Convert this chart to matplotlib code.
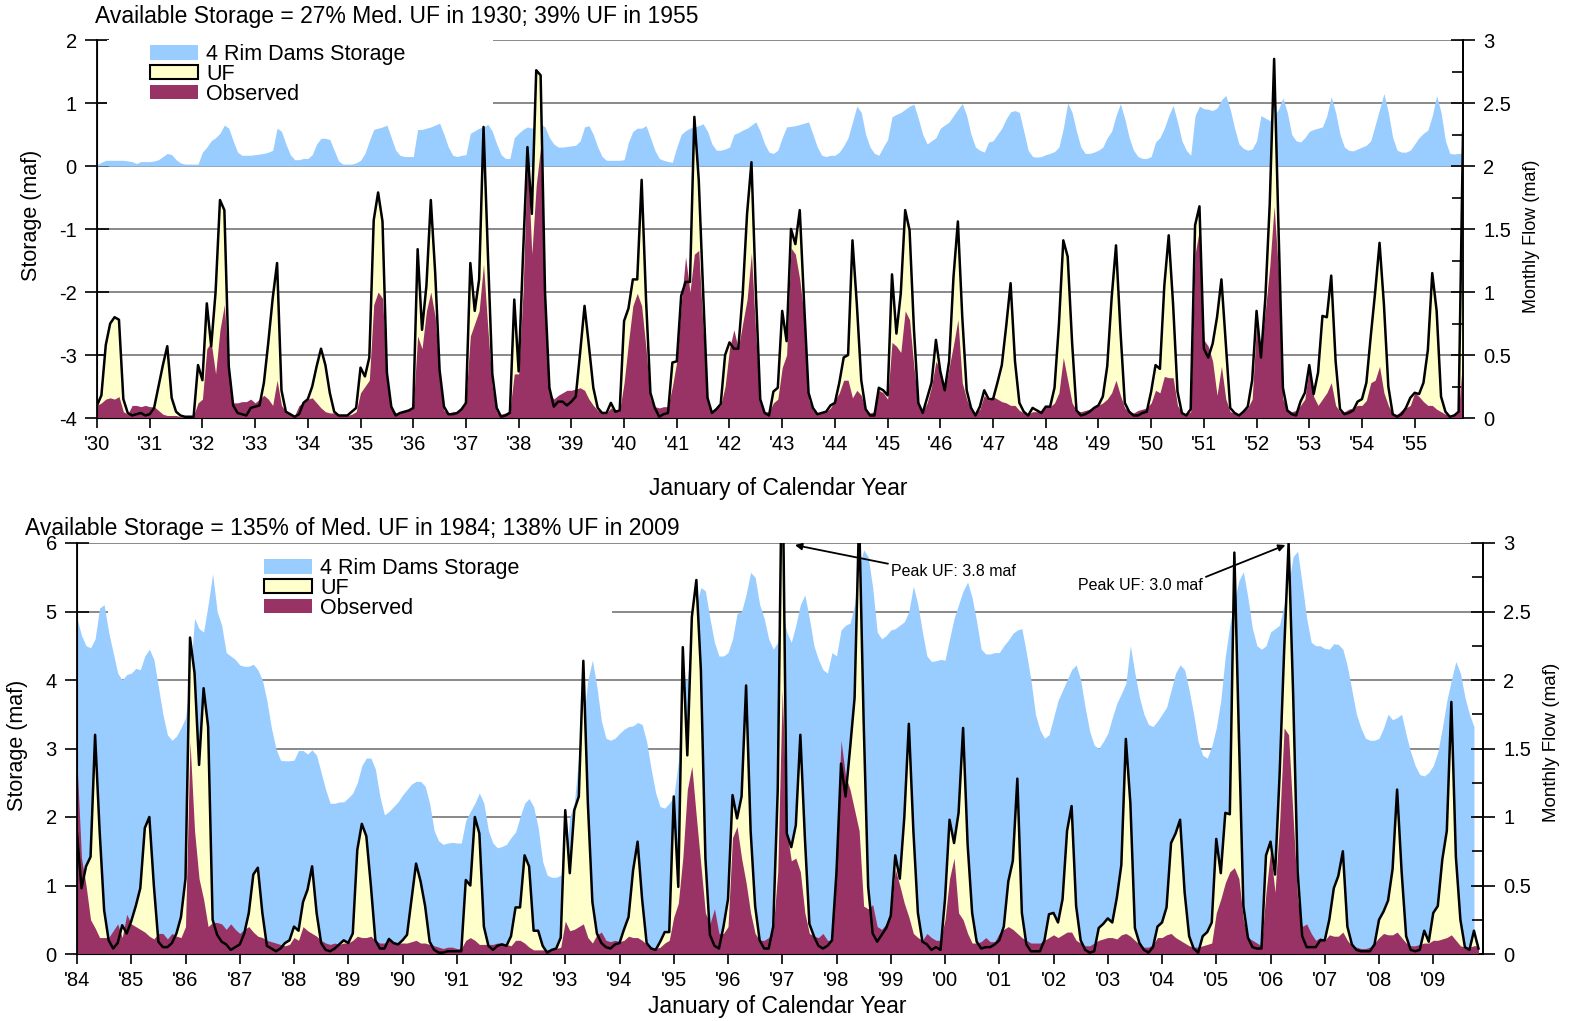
import numpy as np
import matplotlib
matplotlib.use('Agg')
import matplotlib.pyplot as plt
from matplotlib.patches import Patch, Rectangle
from matplotlib.ticker import MultipleLocator, FormatStrFormatter

plt.rcParams['font.family'] = ['Liberation Sans', 'DejaVu Sans']
plt.rcParams['axes.unicode_minus'] = False

# ---------------- data: 1930-1955 (monthly, Jan..Dec) ----------------
uf_top = [
    0.10, 0.18, 0.58, 0.75, 0.80, 0.78, 0.15, 0.04, 0.02, 0.03, 0.04, 0.02,  # 1930
    0.03, 0.08, 0.25, 0.42, 0.57, 0.16, 0.05, 0.02, 0.01, 0.01, 0.01, 0.42,  # 1931
    0.30, 0.91, 0.57, 1.00, 1.73, 1.65, 0.41, 0.10, 0.04, 0.03, 0.02, 0.08,  # 1932
    0.09, 0.10, 0.28, 0.60, 0.95, 1.23, 0.22, 0.05, 0.03, 0.01, 0.03, 0.12,  # 1933
    0.15, 0.25, 0.41, 0.55, 0.42, 0.20, 0.05, 0.02, 0.02, 0.02, 0.05, 0.08,  # 1934
    0.40, 0.33, 0.48, 1.57, 1.79, 1.56, 0.36, 0.09, 0.02, 0.04, 0.05, 0.06,  # 1935
    0.08, 1.34, 0.70, 1.05, 1.73, 1.15, 0.38, 0.09, 0.03, 0.03, 0.04, 0.07,  # 1936
    0.12, 1.23, 0.85, 1.10, 2.31, 1.30, 0.35, 0.08, 0.01, 0.02, 0.04, 0.94,  # 1937
    0.37, 1.30, 2.15, 1.62, 2.76, 2.72, 1.00, 0.24, 0.09, 0.13, 0.13, 0.10,  # 1938
    0.13, 0.17, 0.52, 0.89, 0.57, 0.24, 0.08, 0.04, 0.04, 0.12, 0.05, 0.06,  # 1939
    0.77, 0.87, 1.10, 1.10, 1.89, 0.94, 0.20, 0.08, 0.01, 0.03, 0.04, 0.44,  # 1940
    0.45, 0.97, 1.08, 1.08, 2.39, 1.89, 1.00, 0.16, 0.04, 0.07, 0.11, 0.50,  # 1941
    0.60, 0.55, 0.55, 0.98, 1.62, 2.03, 1.00, 0.15, 0.04, 0.02, 0.21, 0.24,  # 1942
    0.85, 0.61, 1.50, 1.38, 1.65, 0.90, 0.20, 0.08, 0.03, 0.04, 0.05, 0.10,  # 1943
    0.12, 0.28, 0.48, 0.50, 1.41, 0.90, 0.30, 0.07, 0.02, 0.02, 0.24, 0.22,  # 1944
    0.18, 1.14, 0.67, 0.99, 1.65, 1.49, 0.70, 0.12, 0.04, 0.16, 0.28, 0.62,  # 1945
    0.37, 0.22, 0.45, 1.12, 1.56, 0.80, 0.22, 0.08, 0.02, 0.09, 0.22, 0.15,  # 1946
    0.15, 0.28, 0.42, 0.73, 1.07, 0.45, 0.12, 0.05, 0.02, 0.08, 0.06, 0.04,  # 1947
    0.09, 0.09, 0.24, 0.74, 1.41, 1.28, 0.60, 0.06, 0.02, 0.03, 0.05, 0.08,  # 1948
    0.10, 0.17, 0.41, 0.95, 1.37, 0.70, 0.12, 0.05, 0.02, 0.02, 0.04, 0.05,  # 1949
    0.21, 0.42, 0.39, 1.05, 1.45, 0.90, 0.21, 0.04, 0.02, 0.07, 1.53, 1.68,  # 1950
    0.55, 0.48, 0.59, 0.80, 1.10, 0.59, 0.08, 0.04, 0.02, 0.05, 0.09, 0.30,  # 1951
    0.85, 0.48, 0.95, 1.70, 2.85, 1.50, 0.24, 0.06, 0.03, 0.02, 0.13, 0.20,  # 1952
    0.42, 0.19, 0.36, 0.81, 0.80, 1.13, 0.45, 0.07, 0.03, 0.04, 0.06, 0.13,  # 1953
    0.15, 0.28, 0.65, 1.00, 1.39, 0.90, 0.25, 0.03, 0.01, 0.03, 0.08, 0.16,  # 1954
    0.20, 0.19, 0.28, 0.54, 1.15, 0.85, 0.17, 0.05, 0.01, 0.02, 0.05, 2.26,  # 1955
]
obs_top = [
    0.10, 0.12, 0.15, 0.16, 0.15, 0.17, 0.05, 0.03, 0.10, 0.10, 0.09, 0.10,  # 1930
    0.09, 0.09, 0.06, 0.03, 0.02, 0.02, 0.02, 0.01, 0.01, 0.01, 0.02, 0.12,  # 1931
    0.15, 0.55, 0.60, 0.35, 0.70, 0.90, 0.35, 0.12, 0.12, 0.13, 0.13, 0.15,  # 1932
    0.12, 0.15, 0.18, 0.15, 0.10, 0.30, 0.10, 0.05, 0.04, 0.02, 0.10, 0.12,  # 1933
    0.15, 0.16, 0.12, 0.08, 0.05, 0.04, 0.04, 0.03, 0.02, 0.02, 0.03, 0.05,  # 1934
    0.20, 0.25, 0.30, 0.90, 1.00, 0.95, 0.35, 0.08, 0.04, 0.05, 0.06, 0.07,  # 1935
    0.08, 0.65, 0.55, 0.85, 1.00, 0.80, 0.30, 0.06, 0.04, 0.05, 0.05, 0.08,  # 1936
    0.15, 0.65, 0.75, 0.85, 1.22, 0.70, 0.25, 0.05, 0.03, 0.04, 0.06, 0.35,  # 1937
    0.35, 1.00, 2.10, 1.30, 1.85, 2.15, 0.90, 0.20, 0.15, 0.18, 0.20, 0.22,  # 1938
    0.22, 0.23, 0.24, 0.22, 0.15, 0.10, 0.06, 0.05, 0.04, 0.08, 0.06, 0.06,  # 1939
    0.28, 0.60, 0.89, 0.99, 0.89, 0.55, 0.15, 0.09, 0.08, 0.09, 0.09, 0.25,  # 1940
    0.45, 0.90, 1.28, 1.00, 1.30, 1.33, 0.70, 0.12, 0.05, 0.08, 0.10, 0.25,  # 1941
    0.55, 0.70, 0.55, 0.75, 0.94, 1.31, 0.65, 0.12, 0.05, 0.05, 0.12, 0.15,  # 1942
    0.40, 0.50, 1.35, 1.30, 1.10, 0.80, 0.15, 0.06, 0.04, 0.04, 0.05, 0.08,  # 1943
    0.14, 0.20, 0.30, 0.30, 0.16, 0.22, 0.18, 0.06, 0.04, 0.05, 0.22, 0.20,  # 1944
    0.15, 0.60, 0.57, 0.52, 0.85, 0.78, 0.40, 0.10, 0.05, 0.12, 0.25, 0.45,  # 1945
    0.38, 0.22, 0.40, 0.58, 0.78, 0.28, 0.15, 0.06, 0.04, 0.07, 0.18, 0.14,  # 1946
    0.17, 0.15, 0.13, 0.12, 0.10, 0.10, 0.06, 0.04, 0.03, 0.05, 0.05, 0.05,  # 1947
    0.10, 0.09, 0.12, 0.20, 0.48, 0.30, 0.12, 0.06, 0.05, 0.06, 0.07, 0.08,  # 1948
    0.10, 0.12, 0.15, 0.20, 0.30, 0.18, 0.08, 0.05, 0.04, 0.06, 0.07, 0.08,  # 1949
    0.12, 0.22, 0.20, 0.33, 0.32, 0.32, 0.10, 0.04, 0.03, 0.05, 1.30, 1.50,  # 1950
    0.62, 0.57, 0.45, 0.18, 0.41, 0.15, 0.05, 0.04, 0.03, 0.06, 0.08, 0.15,  # 1951
    0.75, 0.55, 0.85, 1.20, 1.68, 1.15, 0.15, 0.07, 0.05, 0.06, 0.10, 0.15,  # 1952
    0.40, 0.17, 0.10, 0.15, 0.20, 0.28, 0.10, 0.05, 0.05, 0.07, 0.08, 0.10,  # 1953
    0.10, 0.14, 0.28, 0.30, 0.41, 0.20, 0.10, 0.03, 0.03, 0.06, 0.08, 0.10,  # 1954
    0.20, 0.17, 0.13, 0.10, 0.10, 0.07, 0.05, 0.03, 0.02, 0.03, 0.06, 0.50,  # 1955
]
storage_top = [
    0.02, 0.06, 0.09, 0.09, 0.09, 0.09, 0.09, 0.08, 0.07, 0.04, 0.07, 0.07,  # 1930
    0.07, 0.08, 0.10, 0.15, 0.20, 0.18, 0.10, 0.05, 0.03, 0.03, 0.03, 0.03,  # 1931
    0.22, 0.30, 0.40, 0.45, 0.52, 0.65, 0.60, 0.40, 0.22, 0.17, 0.17, 0.17,  # 1932
    0.18, 0.19, 0.20, 0.22, 0.25, 0.60, 0.55, 0.35, 0.18, 0.10, 0.10, 0.12,  # 1933
    0.12, 0.18, 0.35, 0.44, 0.44, 0.42, 0.25, 0.08, 0.03, 0.03, 0.03, 0.05,  # 1934
    0.09, 0.20, 0.40, 0.58, 0.60, 0.62, 0.65, 0.45, 0.25, 0.17, 0.15, 0.15,  # 1935
    0.15, 0.58, 0.58, 0.60, 0.62, 0.65, 0.68, 0.50, 0.30, 0.17, 0.15, 0.17,  # 1936
    0.18, 0.52, 0.56, 0.60, 0.62, 0.66, 0.55, 0.35, 0.18, 0.12, 0.12, 0.45,  # 1937
    0.52, 0.58, 0.62, 0.60, 0.64, 0.67, 0.62, 0.45, 0.35, 0.30, 0.30, 0.31,  # 1938
    0.32, 0.33, 0.40, 0.62, 0.64, 0.50, 0.30, 0.15, 0.09, 0.09, 0.09, 0.09,  # 1939
    0.10, 0.38, 0.55, 0.60, 0.60, 0.64, 0.45, 0.25, 0.12, 0.09, 0.07, 0.06,  # 1940
    0.30, 0.50, 0.56, 0.60, 0.62, 0.64, 0.67, 0.55, 0.35, 0.25, 0.25, 0.27,  # 1941
    0.30, 0.50, 0.53, 0.57, 0.60, 0.65, 0.70, 0.55, 0.35, 0.22, 0.20, 0.25,  # 1942
    0.45, 0.62, 0.63, 0.64, 0.66, 0.68, 0.70, 0.50, 0.30, 0.17, 0.15, 0.17,  # 1943
    0.17, 0.22, 0.32, 0.45, 0.70, 0.95, 0.85, 0.50, 0.30, 0.20, 0.17, 0.30,  # 1944
    0.42, 0.78, 0.82, 0.85, 0.90, 0.95, 0.98, 0.75, 0.50, 0.35, 0.40, 0.45,  # 1945
    0.60, 0.65, 0.70, 0.80, 0.90, 0.99, 0.80, 0.50, 0.30, 0.25, 0.22, 0.38,  # 1946
    0.40, 0.50, 0.60, 0.75, 0.86, 0.88, 0.85, 0.55, 0.25, 0.15, 0.14, 0.15,  # 1947
    0.18, 0.20, 0.23, 0.30, 0.60, 1.00, 0.85, 0.55, 0.30, 0.20, 0.20, 0.22,  # 1948
    0.25, 0.30, 0.45, 0.55, 0.80, 0.99, 0.75, 0.45, 0.25, 0.15, 0.12, 0.12,  # 1949
    0.15, 0.38, 0.45, 0.60, 0.80, 0.96, 0.70, 0.40, 0.25, 0.17, 0.80, 0.95,  # 1950
    0.91, 0.90, 0.88, 0.92, 1.05, 1.12, 0.90, 0.60, 0.35, 0.28, 0.25, 0.27,  # 1951
    0.40, 0.80, 0.76, 0.72, 0.80, 0.90, 1.08, 0.85, 0.50, 0.40, 0.38, 0.45,  # 1952
    0.55, 0.58, 0.60, 0.62, 0.80, 1.10, 0.85, 0.50, 0.30, 0.25, 0.24, 0.27,  # 1953
    0.30, 0.33, 0.40, 0.65, 0.90, 1.15, 0.85, 0.45, 0.25, 0.22, 0.22, 0.25,  # 1954
    0.35, 0.45, 0.52, 0.57, 0.80, 1.12, 0.85, 0.40, 0.20, 0.19, 0.20, 0.20,  # 1955
]

# ---------------- data: 1984-2009 (monthly, Jan..Dec) ----------------
uf_bot = [
    0.88, 0.48, 0.64, 0.71, 1.60, 0.90, 0.32, 0.10, 0.04, 0.08, 0.21, 0.15,  # 1984
    0.24, 0.35, 0.48, 0.92, 1.00, 0.50, 0.09, 0.05, 0.05, 0.08, 0.15, 0.27,  # 1985
    0.55, 2.31, 2.05, 1.38, 1.94, 1.66, 0.25, 0.14, 0.09, 0.07, 0.03, 0.05,  # 1986
    0.07, 0.15, 0.30, 0.58, 0.63, 0.30, 0.06, 0.04, 0.02, 0.04, 0.08, 0.10,  # 1987
    0.20, 0.17, 0.38, 0.47, 0.64, 0.30, 0.08, 0.03, 0.02, 0.04, 0.07, 0.10,  # 1988
    0.08, 0.15, 0.76, 0.95, 0.86, 0.50, 0.10, 0.04, 0.04, 0.11, 0.08, 0.07,  # 1989
    0.10, 0.14, 0.40, 0.66, 0.53, 0.35, 0.09, 0.03, 0.01, 0.01, 0.02, 0.02,  # 1990
    0.02, 0.02, 0.54, 0.50, 1.00, 0.88, 0.20, 0.06, 0.03, 0.06, 0.07, 0.06,  # 1991
    0.13, 0.34, 0.34, 0.72, 0.64, 0.17, 0.17, 0.06, 0.01, 0.03, 0.04, 0.12,  # 1992
    1.05, 0.59, 1.05, 1.15, 2.14, 1.10, 0.38, 0.15, 0.08, 0.05, 0.04, 0.07,  # 1993
    0.08, 0.18, 0.27, 0.61, 0.82, 0.40, 0.08, 0.04, 0.03, 0.09, 0.16, 0.16,  # 1994
    1.15, 0.49, 2.24, 1.45, 2.46, 2.73, 2.07, 0.70, 0.14, 0.06, 0.04, 0.20,  # 1995
    0.40, 1.16, 0.99, 1.15, 1.96, 0.90, 0.35, 0.10, 0.04, 0.04, 0.20, 1.20,  # 1996
    3.80, 0.88, 0.78, 0.94, 1.60, 0.85, 0.22, 0.13, 0.06, 0.04, 0.06, 0.10,  # 1997
    0.60, 1.39, 1.15, 1.50, 1.87, 3.20, 1.70, 0.49, 0.15, 0.09, 0.14, 0.19,  # 1998
    0.28, 0.72, 0.55, 1.00, 1.68, 0.90, 0.30, 0.09, 0.07, 0.03, 0.05, 0.03,  # 1999
    0.40, 0.98, 0.81, 1.03, 1.65, 0.80, 0.30, 0.09, 0.04, 0.05, 0.05, 0.07,  # 2000
    0.10, 0.20, 0.53, 0.68, 1.28, 0.30, 0.07, 0.02, 0.02, 0.02, 0.10, 0.29,  # 2001
    0.30, 0.23, 0.40, 0.90, 1.08, 0.35, 0.10, 0.03, 0.01, 0.02, 0.19, 0.22,  # 2002
    0.26, 0.23, 0.41, 0.65, 1.57, 1.10, 0.19, 0.08, 0.03, 0.01, 0.05, 0.20,  # 2003
    0.23, 0.34, 0.81, 0.88, 0.98, 0.45, 0.13, 0.04, 0.01, 0.13, 0.16, 0.23,  # 2004
    0.84, 0.59, 1.03, 1.02, 2.93, 1.60, 0.35, 0.12, 0.05, 0.04, 0.04, 0.72,  # 2005
    0.82, 0.58, 1.30, 2.20, 3.00, 1.90, 0.60, 0.13, 0.05, 0.05, 0.05, 0.10,  # 2006
    0.10, 0.25, 0.48, 0.57, 0.75, 0.20, 0.07, 0.03, 0.02, 0.02, 0.02, 0.07,  # 2007
    0.25, 0.31, 0.39, 0.62, 1.20, 0.60, 0.13, 0.03, 0.02, 0.03, 0.17, 0.09,  # 2008
    0.30, 0.35, 0.69, 0.90, 1.84, 0.71, 0.25, 0.05, 0.03, 0.17, 0.04,        # 2009
]
obs_bot = [
    1.40, 0.70, 0.50, 0.25, 0.19, 0.12, 0.12, 0.12, 0.17, 0.22, 0.12, 0.29,  # 1984
    0.22, 0.20, 0.18, 0.16, 0.13, 0.11, 0.15, 0.15, 0.11, 0.15, 0.13, 0.12,  # 1985
    0.20, 1.55, 0.90, 0.55, 0.40, 0.20, 0.23, 0.23, 0.22, 0.18, 0.22, 0.18,  # 1986
    0.15, 0.18, 0.20, 0.16, 0.13, 0.12, 0.10, 0.09, 0.08, 0.07, 0.06, 0.07,  # 1987
    0.12, 0.10, 0.20, 0.17, 0.15, 0.13, 0.10, 0.08, 0.07, 0.08, 0.07, 0.08,  # 1988
    0.08, 0.10, 0.13, 0.12, 0.12, 0.13, 0.10, 0.08, 0.08, 0.10, 0.08, 0.08,  # 1989
    0.08, 0.08, 0.09, 0.10, 0.08, 0.08, 0.07, 0.06, 0.05, 0.04, 0.05, 0.05,  # 1990
    0.04, 0.04, 0.10, 0.12, 0.10, 0.07, 0.07, 0.07, 0.07, 0.08, 0.08, 0.07,  # 1991
    0.06, 0.10, 0.10, 0.08, 0.05, 0.03, 0.03, 0.03, 0.03, 0.03, 0.04, 0.05,  # 1992
    0.24, 0.17, 0.18, 0.20, 0.22, 0.12, 0.08, 0.14, 0.16, 0.10, 0.09, 0.10,  # 1993
    0.09, 0.10, 0.13, 0.12, 0.12, 0.10, 0.07, 0.05, 0.04, 0.05, 0.08, 0.10,  # 1994
    0.27, 0.37, 0.70, 1.20, 1.37, 1.00, 0.65, 0.30, 0.22, 0.33, 0.15, 0.15,  # 1995
    0.20, 0.85, 0.93, 0.70, 0.52, 0.30, 0.15, 0.10, 0.10, 0.12, 0.18, 0.60,  # 1996
    1.93, 0.90, 0.68, 0.70, 0.60, 0.30, 0.15, 0.13, 0.12, 0.15, 0.10, 0.10,  # 1997
    0.80, 1.56, 1.30, 1.20, 1.05, 0.90, 0.35, 0.33, 0.36, 0.20, 0.18, 0.22,  # 1998
    0.30, 0.62, 0.50, 0.37, 0.27, 0.15, 0.12, 0.10, 0.15, 0.12, 0.10, 0.10,  # 1999
    0.25, 0.55, 0.70, 0.30, 0.25, 0.15, 0.08, 0.08, 0.09, 0.12, 0.09, 0.09,  # 2000
    0.15, 0.18, 0.20, 0.18, 0.15, 0.12, 0.10, 0.08, 0.08, 0.08, 0.10, 0.12,  # 2001
    0.14, 0.12, 0.14, 0.16, 0.16, 0.10, 0.08, 0.06, 0.06, 0.08, 0.10, 0.11,  # 2002
    0.12, 0.12, 0.11, 0.14, 0.15, 0.13, 0.10, 0.07, 0.05, 0.05, 0.07, 0.12,  # 2003
    0.12, 0.14, 0.15, 0.12, 0.10, 0.08, 0.06, 0.05, 0.05, 0.06, 0.07, 0.08,  # 2004
    0.30, 0.40, 0.52, 0.60, 0.63, 0.55, 0.25, 0.12, 0.10, 0.08, 0.06, 0.45,  # 2005
    0.75, 0.45, 0.95, 1.65, 1.60, 1.00, 0.40, 0.20, 0.22, 0.15, 0.10, 0.12,  # 2006
    0.10, 0.14, 0.13, 0.13, 0.16, 0.10, 0.06, 0.05, 0.04, 0.04, 0.05, 0.08,  # 2007
    0.12, 0.15, 0.14, 0.14, 0.16, 0.12, 0.08, 0.06, 0.06, 0.07, 0.08, 0.08,  # 2008
    0.10, 0.10, 0.11, 0.12, 0.14, 0.10, 0.06, 0.05, 0.05, 0.06, 0.06,        # 2009
]
storage_bot = [
    4.90, 4.65, 4.50, 4.47, 4.60, 5.05, 5.10, 4.70, 4.40, 4.10, 4.00, 4.08,  # 1984
    4.10, 4.17, 4.15, 4.35, 4.45, 4.30, 3.90, 3.50, 3.20, 3.12, 3.18, 3.30,  # 1985
    3.45, 4.00, 4.90, 4.75, 4.70, 5.10, 5.55, 5.00, 4.80, 4.40, 4.35, 4.30,  # 1986
    4.22, 4.20, 4.20, 4.23, 4.15, 4.00, 3.70, 3.30, 3.00, 2.83, 2.82, 2.82,  # 1987
    2.83, 2.97, 2.97, 2.92, 2.98, 2.90, 2.65, 2.40, 2.20, 2.20, 2.22, 2.22,  # 1988
    2.28, 2.35, 2.50, 2.75, 2.86, 2.86, 2.70, 2.30, 2.03, 2.08, 2.15, 2.22,  # 1989
    2.32, 2.40, 2.48, 2.52, 2.52, 2.45, 2.20, 1.80, 1.65, 1.60, 1.62, 1.63,  # 1990
    1.62, 1.62, 1.95, 2.08, 2.20, 2.35, 2.20, 1.80, 1.62, 1.55, 1.57, 1.60,  # 1991
    1.70, 1.78, 2.00, 2.20, 2.27, 2.15, 1.85, 1.35, 1.15, 1.12, 1.12, 1.15,  # 1992
    1.30, 2.00, 2.20, 2.90, 3.40, 4.00, 4.29, 3.90, 3.40, 3.15, 3.12, 3.15,  # 1993
    3.22, 3.28, 3.32, 3.33, 3.38, 3.35, 3.10, 2.70, 2.35, 2.15, 2.13, 2.20,  # 1994
    2.30, 2.80, 4.00, 4.00, 4.60, 5.10, 5.35, 5.30, 4.90, 4.55, 4.35, 4.35,  # 1995
    4.40, 4.60, 4.97, 5.00, 5.25, 5.57, 5.50, 5.10, 4.90, 4.60, 4.45, 4.55,  # 1996
    5.00, 4.70, 4.55, 4.80, 5.10, 5.24, 4.90, 4.50, 4.30, 4.15, 4.10, 4.40,  # 1997
    4.35, 4.73, 4.80, 4.83, 5.10, 5.65, 5.90, 5.80, 5.35, 4.70, 4.60, 4.65,  # 1998
    4.73, 4.75, 4.80, 4.85, 5.00, 5.37, 5.10, 4.70, 4.35, 4.27, 4.28, 4.30,  # 1999
    4.29, 4.60, 4.90, 5.10, 5.30, 5.43, 5.20, 4.85, 4.45, 4.38, 4.38, 4.40,  # 2000
    4.40, 4.50, 4.58, 4.68, 4.73, 4.75, 4.40, 4.00, 3.50, 3.27, 3.15, 3.20,  # 2001
    3.45, 3.70, 3.85, 4.00, 4.15, 4.22, 4.00, 3.60, 3.25, 3.05, 3.00, 3.10,  # 2002
    3.22, 3.45, 3.66, 3.80, 3.95, 4.50, 4.10, 3.75, 3.50, 3.35, 3.32, 3.40,  # 2003
    3.50, 3.60, 3.85, 4.10, 4.22, 4.15, 3.85, 3.50, 3.10, 2.90, 2.86, 3.03,  # 2004
    3.30, 3.70, 4.35, 4.80, 5.15, 5.45, 5.58, 5.20, 4.75, 4.50, 4.45, 4.50,  # 2005
    4.70, 4.75, 4.80, 5.10, 5.40, 5.80, 5.88, 5.40, 4.90, 4.55, 4.50, 4.50,  # 2006
    4.46, 4.45, 4.53, 4.52, 4.45, 4.20, 3.85, 3.50, 3.30, 3.15, 3.12, 3.12,  # 2007
    3.15, 3.30, 3.50, 3.42, 3.45, 3.50, 3.20, 2.95, 2.75, 2.62, 2.60, 2.65,  # 2008
    2.75, 2.95, 3.30, 3.70, 4.00, 4.27, 4.10, 3.75, 3.50, 3.32,              # 2009
]

STORAGE_C = '#99CCFF'
UF_C = '#FFFFCC'
OBS_C = '#993366'
GRID_C = '#808080'

fig = plt.figure(figsize=(15.69, 10.21), dpi=100)
W, H = 1569.0, 1021.0


def panel(box, first_year, storage, uf, obs, s_lim, legend_xy, legend_bg):
    # box in pixels: left, top, right, bottom
    l, t, r, b = box
    ax = fig.add_axes([l / W, 1 - b / H, (r - l) / W, (b - t) / H])
    ax.set_axisbelow(True)
    xs = np.arange(len(storage))
    ax.fill_between(xs, 0, storage, color=STORAGE_C, lw=0, zorder=6)
    ax.set_xlim(0, 311)
    ax.set_ylim(*s_lim)
    ax.yaxis.set_major_locator(MultipleLocator(1))
    ax.yaxis.grid(True, color=GRID_C, lw=1.3, zorder=0)
    ax.set_xticks(np.arange(0, 312, 12))
    ax.set_xticklabels(["'%02d" % (y % 100) for y in range(first_year, first_year + 26)])
    ax.tick_params(axis='x', direction='out', length=7, width=1.2, labelsize=14.5, pad=5)
    ax.tick_params(axis='y', direction='inout', length=17, width=1.2, labelsize=14.5, pad=6)
    for s in ['left', 'bottom', 'right']:
        ax.spines[s].set_linewidth(1.3)
    ax.spines['top'].set_visible(False)

    # white legend background (hides the gridlines like the original legend box)
    bx0, by0, bx1, by1 = legend_bg
    ax.add_patch(Rectangle((bx0 / W, 1 - by1 / H), (bx1 - bx0) / W, (by1 - by0) / H,
                           transform=fig.transFigure, facecolor='white',
                           edgecolor='none', zorder=3))

    handles = [Patch(facecolor=STORAGE_C, edgecolor='none', label='4 Rim Dams Storage'),
               Patch(facecolor=UF_C, edgecolor='black', lw=1.5, label='UF'),
               Patch(facecolor=OBS_C, edgecolor='none', label='Observed')]
    leg = ax.legend(handles=handles, loc='upper left',
                    bbox_to_anchor=(legend_xy[0] / W, 1 - legend_xy[1] / H),
                    bbox_transform=fig.transFigure, fontsize=15.5, frameon=False,
                    labelspacing=-0.06, handlelength=2.2, handleheight=0.65,
                    handletextpad=0.4, borderpad=0.1, borderaxespad=0)
    leg.set_zorder(4)

    ax2 = ax.twinx()
    xf = np.arange(len(uf))
    ax2.fill_between(xf, 0, uf, color=UF_C, lw=0, zorder=1)
    ax2.fill_between(xf, 0, obs, color=OBS_C, lw=0, zorder=2)
    ax2.plot(xf, uf, color='black', lw=1.8, zorder=3)
    ax2.set_ylim(0, 3)
    ax2.set_xlim(0, 311)
    ax2.yaxis.set_major_locator(MultipleLocator(0.5))
    ax2.yaxis.set_minor_locator(MultipleLocator(0.25))
    ax2.yaxis.set_major_formatter(FormatStrFormatter('%g'))
    ax2.tick_params(axis='y', which='major', direction='inout', length=17, width=1.2,
                    labelsize=14.5, pad=6)
    ax2.tick_params(axis='y', which='minor', direction='in', length=8, width=1.2)
    ax2.spines['top'].set_visible(False)
    ax2.spines['right'].set_linewidth(1.3)
    return ax, ax2


# top panel
ax_t, ax2_t = panel((97, 40, 1463, 418), 1930, storage_top, uf_top, obs_top, (-4, 2),
                    (148, 42), (107, 39, 493, 104))
# bottom panel
ax_b, ax2_b = panel((77, 543, 1483, 954), 1984, storage_bot, uf_bot, obs_bot, (0, 6),
                    (262, 556), (108, 546, 612, 614))

# peak annotations in the lower panel
ax2_b.annotate('Peak UF: 3.8 maf', xy=(158.8, 2.985), xytext=(180, 2.79),
               ha='left', va='center', fontsize=11.5, annotation_clip=False,
               arrowprops=dict(arrowstyle='-|>', color='black', lw=1.3, mutation_scale=10,
                               relpos=(0, 1), shrinkA=0, shrinkB=0))
ax2_b.annotate('Peak UF: 3.0 maf', xy=(267.3, 2.985), xytext=(221.5, 2.69),
               ha='left', va='center', fontsize=11.5, annotation_clip=False,
               arrowprops=dict(arrowstyle='-|>', color='black', lw=1.3, mutation_scale=10,
                               relpos=(1, 1), shrinkA=0, shrinkB=0))

# titles and axis labels
fig.text(95 / W, 1 - 17 / H, 'Available Storage = 27% Med. UF in 1930; 39% UF in 1955',
         ha='left', va='center', fontsize=16.5)
fig.text(25 / W, 1 - 529 / H, 'Available Storage = 135% of Med. UF in 1984; 138% UF in 2009',
         ha='left', va='center', fontsize=16.5)
fig.text(778 / W, 1 - 488 / H, 'January of Calendar Year', ha='center', va='center', fontsize=16.5)
fig.text(777 / W, 1 - 1006 / H, 'January of Calendar Year', ha='center', va='center', fontsize=16.5)
fig.text(31 / W, 1 - 215 / H, 'Storage (maf)', rotation=90, ha='center', va='center', fontsize=15.5)
fig.text(18 / W, 1 - 745 / H, 'Storage (maf)', rotation=90, ha='center', va='center', fontsize=15.5)
fig.text(1531 / W, 1 - 236 / H, 'Monthly Flow (maf)', rotation=90, ha='center', va='center', fontsize=13)
fig.text(1551 / W, 1 - 742 / H, 'Monthly Flow (maf)', rotation=90, ha='center', va='center', fontsize=13.5)

fig.savefig('out.png', dpi=100)
